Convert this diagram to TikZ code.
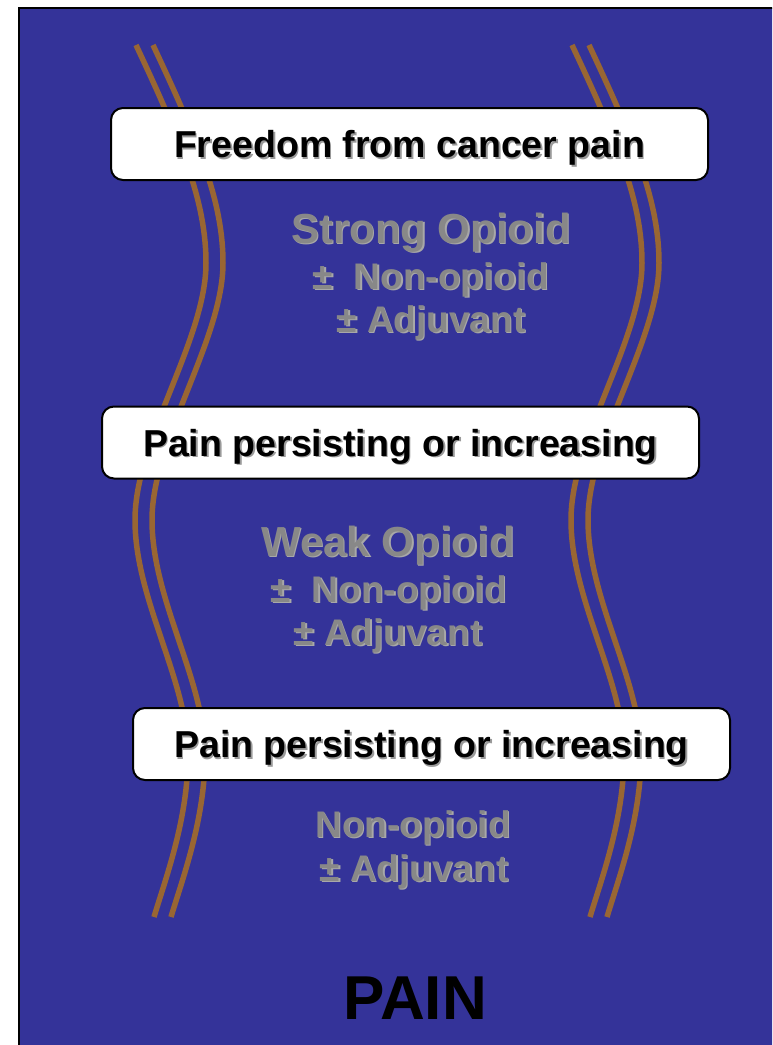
\documentclass[tikz,border=0pt]{standalone}
\usepackage{fontspec}
\setmainfont{Liberation Sans}
\definecolor{bg}{HTML}{343399}
\definecolor{ropec}{HTML}{996633}
\definecolor{pale}{HTML}{888888}
\definecolor{palesh}{HTML}{A8A8A8}
\definecolor{boxsh}{HTML}{9A9A9A}
\newcommand\myboxtext[3]{%
  \node[stepbox] (#1) at #2 {};
  \node[boxlbl,text=boxsh] (#1s) at ([shift={(1.8,1.8)}]#1.center) {#3};
  \node[boxlbl] (#1t) at (#1.center) {#3};
}
\newcommand\mygraytext[5]{%
  \node[#2,text=palesh] (#1s) at (#3+1.5,#4+1.5) {#5};
  \node[#2] (#1) at (#3,#4) {#5};
}
\begin{document}
\begin{tikzpicture}[x=1pt,y=-1pt,
  stepbox/.style={draw=black,line width=2pt,fill=white,rounded corners=12pt,
    minimum width=597pt,minimum height=72pt,inner sep=0pt},
  boxlbl/.style={inner sep=0pt,text height=27pt,text depth=0pt,
    font=\fontsize{37.5}{40}\selectfont\bfseries},
  rope/.style={draw=ropec,line width=5.5pt},
  drugbig/.style={text=pale,anchor=base,inner sep=0pt,font=\fontsize{42}{46}\selectfont\bfseries},
  drug/.style={text=pale,anchor=base,inner sep=0pt,font=\fontsize{37}{40}\selectfont\bfseries},
]
\useasboundingbox (0,0) rectangle (772,1045);
\clip (0,0) rectangle (772,1045);
\fill[bg] (19,8) rectangle (800,1100);
\draw[black,line width=2pt] (19,1100) -- (19,8) -- (800,8);
% ropes
\foreach \dx in {0,17,436,453}{
  \draw[rope,xshift=\dx pt] (136,45)
    .. controls (183,145) and (206,203) .. (206,263)
    .. controls (206,340) and (135,440) .. (135,520)
    .. controls (135,600) and (188,680) .. (188,755)
    .. controls (188,820) and (165,880) .. (154,917);
}
% boxes
\myboxtext{b1}{(409.5,144)}{Freedom from cancer pain}
\myboxtext{b2}{(400.5,442.5)}{Pain persisting or increasing}
\myboxtext{b3}{(431.5,744)}{Pain persisting or increasing}
% drug texts
\mygraytext{s1}{drugbig}{431}{243}{Strong Opioid}
\mygraytext{s2}{drug}{431}{289}{\char"00B1\ \ Non-opioid}
\mygraytext{s3}{drug}{431}{332}{\char"00B1\ Adjuvant}
\mygraytext{w1}{drugbig}{388}{556}{Weak Opioid}
\mygraytext{w2}{drug}{389}{602}{\char"00B1\ \ Non-opioid}
\mygraytext{w3}{drug}{388}{645}{\char"00B1\ Adjuvant}
\mygraytext{n1}{drug}{413}{837}{Non-opioid}
\mygraytext{n2}{drug}{414}{881}{\char"00B1\ Adjuvant}
\node[anchor=base,inner sep=0pt,font=\fontsize{62}{66}\selectfont\bfseries] (pain) at (415,1019) {PAIN};
\end{tikzpicture}
\end{document}
